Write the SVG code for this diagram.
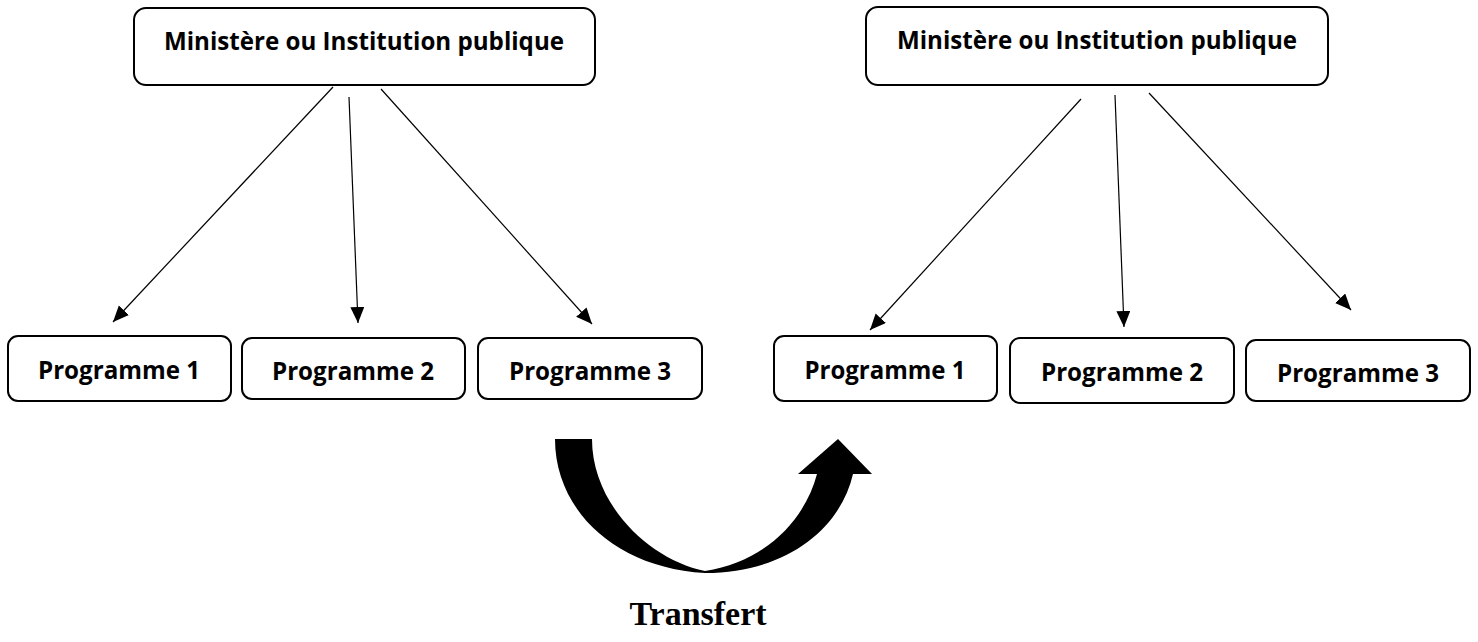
<svg xmlns="http://www.w3.org/2000/svg" width="1478" height="642" viewBox="0 0 1478 642">
<style>
.box{fill:#fff;stroke:#000;stroke-width:2}
.t{font-family:"Open Sans","Noto Sans",sans-serif;font-weight:bold;font-size:25px;fill:#000;text-anchor:middle}
.c{stroke:#000;stroke-width:1.2;fill:none;marker-end:url(#ah)}
.tr{font-family:"Liberation Serif","Times New Roman",serif;font-weight:bold;font-size:34px;fill:#000;text-anchor:middle}
</style>
<defs>
<marker id="ah" markerUnits="userSpaceOnUse" markerWidth="18" markerHeight="16" refX="16" refY="7" orient="auto">
<path d="M0,0 L16,7 L0,14 Z" fill="#000"/>
</marker>
</defs>
<rect width="1478" height="642" fill="#fff"/>
<g id="ministere-left">
<rect class="box" x="134" y="8" width="461" height="77" rx="12"/>
<text class="t" x="364" y="50" textLength="400" lengthAdjust="spacingAndGlyphs">Ministère ou Institution publique</text>
</g>
<g id="ministere-right">
<rect class="box" x="866" y="7" width="462" height="78" rx="12"/>
<text class="t" x="1097" y="49" textLength="400" lengthAdjust="spacingAndGlyphs">Ministère ou Institution publique</text>
</g>
<g id="prog1-left">
<rect class="box" x="8" y="336" width="223" height="65" rx="10"/>
<text class="t" x="119" y="379" textLength="162" lengthAdjust="spacingAndGlyphs">Programme 1</text>
</g>
<g id="prog2-left">
<rect class="box" x="242" y="338" width="223" height="61" rx="10"/>
<text class="t" x="353" y="380" textLength="162" lengthAdjust="spacingAndGlyphs">Programme 2</text>
</g>
<g id="prog3-left">
<rect class="box" x="478" y="338" width="224" height="61" rx="10"/>
<text class="t" x="590" y="380" textLength="162" lengthAdjust="spacingAndGlyphs">Programme 3</text>
</g>
<g id="prog1-right">
<rect class="box" x="774" y="336" width="223" height="65" rx="10"/>
<text class="t" x="885" y="379" textLength="161" lengthAdjust="spacingAndGlyphs">Programme 1</text>
</g>
<g id="prog2-right">
<rect class="box" x="1010" y="338" width="224" height="65" rx="10"/>
<text class="t" x="1122" y="381" textLength="162" lengthAdjust="spacingAndGlyphs">Programme 2</text>
</g>
<g id="prog3-right">
<rect class="box" x="1246" y="340" width="224" height="61" rx="10"/>
<text class="t" x="1358" y="382" textLength="162" lengthAdjust="spacingAndGlyphs">Programme 3</text>
</g>
<g id="connectors">
<line class="c" x1="333" y1="87" x2="113" y2="322"/>
<line class="c" x1="349" y1="97" x2="358" y2="323"/>
<line class="c" x1="381" y1="89" x2="592" y2="324"/>
<line class="c" x1="1081" y1="99" x2="870" y2="330"/>
<line class="c" x1="1115" y1="95" x2="1124" y2="327"/>
<line class="c" x1="1149" y1="93" x2="1351" y2="310"/>
</g>
<g id="transfert">
<path d="M555,439 C555,510 615,568 705,573 C785,573 840,530 853,474 L872,474 L838,439 L798,474 L817,474 C805,520 765,562 705,571 C650,560 592,505 592,439 Z" fill="#000"/>
<text class="tr" x="698" y="625">Transfert</text>
</g>
</svg>
